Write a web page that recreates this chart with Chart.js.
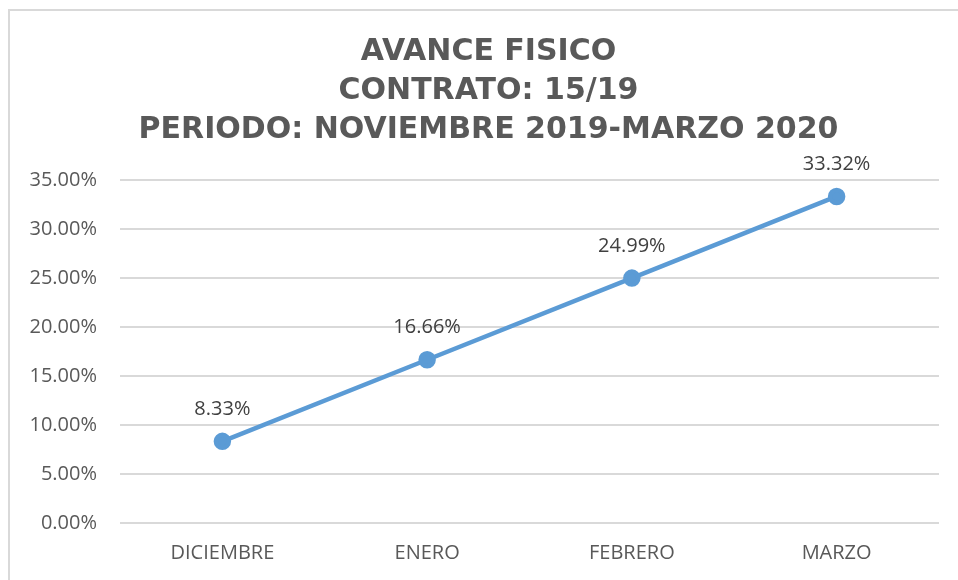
<!DOCTYPE html>
<html>
<head>
<meta charset="utf-8">
<script src="https://cdn.jsdelivr.net/npm/chart.js@4"></script>
<style>
  body { margin: 0; background: #fff; overflow: hidden; }
  #frame { position: absolute; left: 8px; top: 9px; width: 960px; height: 580px;
           border-left: 2px solid #d9d9d9; border-top: 2px solid #d9d9d9; }
  #wrap { position: absolute; left: -10px; top: -11px; width: 958px; height: 580px; }
</style>
</head>
<body>
<div id="frame"><div id="wrap"><canvas id="chart"></canvas></div></div>
<script>
const months = ['DICIEMBRE', 'ENERO', 'FEBRERO', 'MARZO']
const avance = [8.33, 16.66, 24.99, 33.32]
const titleLines = ['AVANCE FISICO', 'CONTRATO: 15/19', 'PERIODO: NOVIEMBRE 2019-MARZO 2020']

// etiquetas encima de cada punto
const pointLabels = {
    id: 'pointLabels',
    afterLayout(chart) {
        // que no se recorten las etiquetas del eje y
        chart.scales.y.left = 0
    },
    afterDatasetsDraw(chart) {
        const ctx = chart.ctx
        const meta = chart.getDatasetMeta(0)
        ctx.save()
        ctx.font = '20px "Open Sans", sans-serif'
        ctx.fillStyle = '#404040'
        ctx.textAlign = 'center'
        ctx.textBaseline = 'middle'
        meta.data.forEach((pt, i) => {
            ctx.fillText(avance[i].toFixed(2) + '%', pt.x, pt.y - 32)
        })
        ctx.restore()
    }
}

const ctx = document.getElementById('chart').getContext('2d')
new Chart(ctx, {
    type: 'line',
    data: {
        labels: months,
        datasets: [{
            data: avance,
            borderColor: '#5B9BD5',
            backgroundColor: '#5B9BD5',
            borderWidth: 4.5,
            pointRadius: 6.5,
            pointHoverRadius: 6.5,
            tension: 0
        }]
    },
    options: {
        responsive: true,
        maintainAspectRatio: false,
        animation: false,
        layout: { padding: { left: 38, right: 19, top: 33, bottom: 0 } },
        plugins: {
            legend: { display: false },
            tooltip: { enabled: false },
            title: {
                display: true,
                text: titleLines,
                color: '#595959',
                font: { family: '"DejaVu Sans", sans-serif', size: 30, weight: 'bold', lineHeight: 1.3 },
                padding: { top: 0, bottom: 30 }
            }
        },
        scales: {
            x: {
                offset: true,
                grid: { display: false, drawTicks: false },
                border: { display: false },
                ticks: { color: '#595959', font: { family: '"Open Sans", sans-serif', size: 20 }, padding: 18 },
                afterFit: axis => { axis.height = 57 }
            },
            y: {
                min: 0,
                max: 35,
                grid: { color: '#d9d9d9', lineWidth: 2, drawTicks: false },
                border: { display: false },
                ticks: {
                    stepSize: 5,
                    color: '#595959',
                    font: { family: '"Open Sans", sans-serif', size: 20 },
                    padding: 23,
                    callback: v => v.toFixed(2) + '%'
                },
                afterFit: axis => { axis.width = 82 }
            }
        }
    },
    plugins: [pointLabels]
})
</script>
</body>
</html>
